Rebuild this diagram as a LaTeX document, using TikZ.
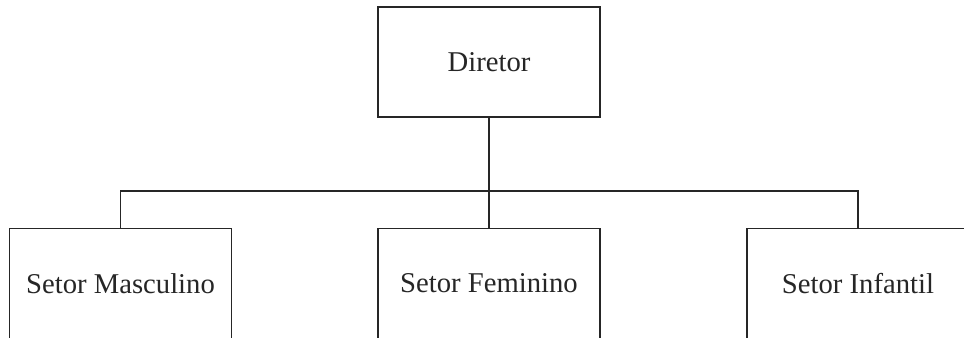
\documentclass[tikz,border=0pt]{standalone}
\usepackage{fontspec}
\setmainfont{Liberation Serif}
\begin{document}
\begin{tikzpicture}[x=0.75pt,y=-0.75pt,
  unitbox/.style={draw=black!85, line width=1.3pt, rectangle,
    minimum width=166.5pt, minimum height=82.5pt, inner sep=0pt,
    font=\fontsize{21.5pt}{24pt}\selectfont, text=black!85},
  link/.style={draw=black!85, line width=1.3pt}]
  \useasboundingbox (0,0) rectangle (964,338);
  \clip (0,0) rectangle (964,338);
  \fill[white] (0,0) rectangle (964,338);
  % head of the organisation
  \node[unitbox] (dir) at (489,62) {Diretor};
  % sectors
  \node[unitbox] (masc) at (120.5,283.5) {Setor Masculino};
  \node[unitbox] (fem) at (489,283.5) {Setor Feminino};
  \node[unitbox] (inf) at (858,283.5) {Setor Infantil};
  % bus line
  \coordinate (bus) at (489,191);
  \draw[link] (dir.south) -- (bus);
  \draw[link] (masc.north) |- (bus) -| (inf.north);
  \draw[link] (bus) -- (fem.north);
\end{tikzpicture}
\end{document}
